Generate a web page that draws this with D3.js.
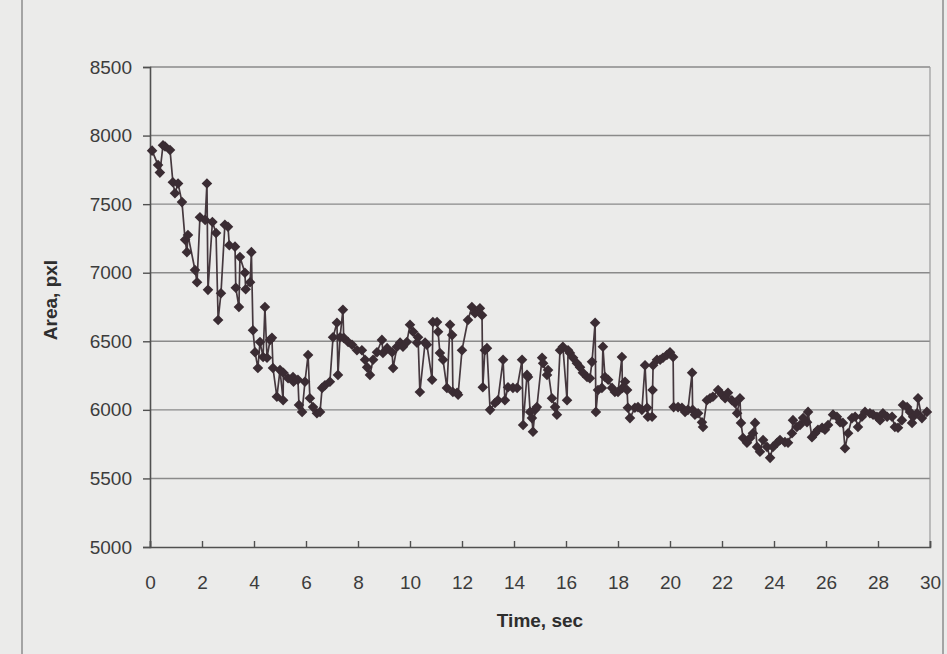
<!DOCTYPE html>
<html>
<head>
<meta charset="utf-8">
<script src="https://cdn.jsdelivr.net/npm/d3@7"></script>
<style>
  body { margin: 0; background: #ebebea; }
  svg { display: block; }
</style>
</head>
<body>
<svg id="chart" width="947" height="654"></svg>
<script>
// time (sec) and area (pxl)
const times = [
  0.08, 0.31, 0.38, 0.5, 0.58, 0.77, 0.88, 0.96, 1.08, 1.23, 1.35, 1.42, 1.46, 1.73, 1.81, 1.92,
  2.12, 2.19, 2.23, 2.4, 2.54, 2.62, 2.73, 2.88, 3.0, 3.05, 3.27, 3.3, 3.42, 3.46, 3.65, 3.68,
  3.85, 3.9, 3.96, 4.04, 4.15, 4.23, 4.35, 4.42, 4.5, 4.62, 4.69, 4.73, 4.88, 5.0, 5.12, 5.13,
  5.31, 5.5, 5.52, 5.69, 5.73, 5.85, 5.96, 6.08, 6.15, 6.27, 6.42, 6.54, 6.62, 6.73, 6.92, 7.04,
  7.19, 7.23, 7.31, 7.42, 7.45, 7.62, 7.77, 7.96, 8.15, 8.27, 8.35, 8.46, 8.58, 8.73, 8.92, 8.96,
  9.12, 9.31, 9.35, 9.5, 9.62, 9.73, 9.88, 10.0, 10.12, 10.27, 10.31, 10.38, 10.58, 10.65, 10.85, 10.88,
  11.04, 11.08, 11.15, 11.27, 11.42, 11.54, 11.62, 11.65, 11.81, 11.85, 12.0, 12.23, 12.38, 12.5, 12.69, 12.77,
  12.8, 12.88, 12.96, 13.08, 13.27, 13.38, 13.58, 13.65, 13.77, 13.96, 14.12, 14.31, 14.35, 14.5, 14.54, 14.62,
  14.69, 14.73, 14.81, 14.88, 15.08, 15.12, 15.27, 15.31, 15.46, 15.58, 15.65, 15.77, 15.88, 16.04, 16.08, 16.15,
  16.27, 16.42, 16.54, 16.65, 16.81, 16.92, 17.0, 17.12, 17.15, 17.23, 17.38, 17.42, 17.5, 17.62, 17.77, 17.88,
  18.0, 18.15, 18.17, 18.27, 18.35, 18.38, 18.46, 18.65, 18.77, 18.92, 19.04, 19.12, 19.15, 19.31, 19.33, 19.35,
  19.5, 19.62, 19.73, 19.88, 20.0, 20.12, 20.14, 20.31, 20.46, 20.58, 20.69, 20.85, 20.87, 20.96, 21.08, 21.23,
  21.27, 21.42, 21.54, 21.65, 21.85, 22.0, 22.12, 22.23, 22.38, 22.5, 22.58, 22.69, 22.73, 22.81, 22.96, 23.08,
  23.19, 23.27, 23.35, 23.46, 23.58, 23.73, 23.85, 23.96, 24.12, 24.23, 24.42, 24.54, 24.69, 24.73, 24.88, 25.0,
  25.12, 25.27, 25.31, 25.46, 25.58, 25.69, 25.85, 25.96, 26.08, 26.27, 26.42, 26.54, 26.65, 26.73, 26.85, 27.0,
  27.12, 27.23, 27.38, 27.5, 27.69, 27.81, 27.96, 28.08, 28.19, 28.35, 28.54, 28.65, 28.77, 28.92, 28.96, 29.12,
  29.23, 29.31, 29.35, 29.5, 29.54, 29.69, 29.88
]
const areas = [
  7890, 7785, 7730, 7930, 7920, 7895, 7660, 7580, 7650, 7515, 7240, 7150, 7275, 7020, 6930, 7405,
  7385, 7650, 6875, 7370, 7290, 6655, 6850, 7350, 7335, 7200, 7190, 6890, 6750, 7115, 7000, 6880,
  6930, 7150, 6580, 6420, 6305, 6495, 6385, 6750, 6380, 6510, 6525, 6305, 6095, 6290, 6070, 6270,
  6230, 6240, 6205, 6220, 6035, 5985, 6205, 6400, 6085, 6020, 5975, 5985, 6160, 6180, 6205, 6530,
  6635, 6255, 6530, 6730, 6525, 6495, 6475, 6435, 6435, 6365, 6310, 6255, 6365, 6420, 6510, 6415,
  6450, 6420, 6305, 6460, 6490, 6460, 6495, 6620, 6570, 6490, 6530, 6130, 6490, 6475, 6220, 6640,
  6640, 6570, 6415, 6365, 6160, 6620, 6545, 6130, 6125, 6110, 6435, 6655, 6750, 6705, 6740, 6690,
  6165, 6435, 6450, 6000, 6050, 6070, 6365, 6070, 6165, 6160, 6160, 6365, 5890, 6255, 6240, 5985,
  5940, 5840, 6000, 6020, 6380, 6340, 6255, 6290, 6085, 6020, 5965, 6435, 6460, 6070, 6435, 6415,
  6380, 6340, 6310, 6270, 6240, 6230, 6350, 6635, 5985, 6145, 6160, 6460, 6240, 6220, 6160, 6130,
  6130, 6385, 6160, 6205, 6145, 6015, 5940, 6015, 6020, 6000, 6325, 6015, 5950, 5950, 6145, 6325,
  6365, 6365, 6380, 6400, 6420, 6385, 6020, 6020, 6015, 5985, 6000, 6270, 6000, 5965, 5975, 5910,
  5875, 6070, 6085, 6095, 6145, 6110, 6085, 6125, 6070, 6050, 5975, 6085, 5905, 5795, 5760, 5795,
  5830, 5905, 5730, 5695, 5780, 5730, 5650, 5730, 5760, 5780, 5765, 5760, 5830, 5925, 5875, 5890,
  5940, 5910, 5985, 5800, 5830, 5855, 5870, 5855, 5890, 5965, 5950, 5910, 5905, 5720, 5830, 5940,
  5950, 5875, 5950, 5985, 5975, 5965, 5950, 5925, 5975, 5950, 5950, 5875, 5870, 5925, 6035, 6020,
  5985, 5905, 5950, 5975, 6085, 5940, 5985
]
const xTicks = d3.range(0, 31, 2)
const yTicks = d3.range(5000, 8501, 500)

const svg = d3.select('#chart')
const margin = {left: 150, right: 930, top: 67, bottom: 547}

const x = d3.scaleLinear().domain([0, 30]).range([margin.left, margin.right])
const y = d3.scaleLinear().domain([5000, 8500]).range([margin.bottom, margin.top])

//paper + chart area border
svg.append('rect').attr('width', 947).attr('height', 654).attr('fill', '#ebebea')
svg.append('line').attr('x1', 22).attr('x2', 22).attr('y1', 0).attr('y2', 654)
    .attr('stroke', '#8c8c8c').attr('stroke-width', 1.5)
svg.append('line').attr('x1', 943).attr('x2', 943).attr('y1', 0).attr('y2', 654)
    .attr('stroke', '#8c8c8c').attr('stroke-width', 1.5)

//gridlines and plot border
svg.append('g').selectAll('line')
    .data(yTicks.filter(d => d > 5000))
    .join('line')
    .attr('x1', margin.left).attr('x2', margin.right)
    .attr('y1', d => y(d)).attr('y2', d => y(d))
    .attr('stroke', '#8a8a8a').attr('stroke-width', 1.4)
svg.append('line').attr('x1', margin.right).attr('x2', margin.right)
    .attr('y1', margin.top).attr('y2', margin.bottom)
    .attr('stroke', '#9a9a9a').attr('stroke-width', 1.2)

//axes
const yAxis = svg.append('g')
    .attr('transform', `translate(${margin.left},0)`)
    .call(d3.axisLeft(y).tickValues(yTicks).tickSize(7).tickPadding(11).tickFormat(d3.format('d')))
const xAxis = svg.append('g')
    .attr('transform', `translate(0,${margin.bottom})`)
    .call(d3.axisBottom(x).tickValues(xTicks).tickSize(-6).tickPadding(29).tickFormat(d3.format('d')))

svg.selectAll('.domain').attr('stroke', '#505050').attr('stroke-width', 1.6)
svg.selectAll('.tick line').attr('stroke', '#505050').attr('stroke-width', 1.4)
svg.selectAll('.tick text')
    .attr('font-family', 'Liberation Sans, Arial, sans-serif')
    .attr('font-size', 19)
    .attr('fill', '#3c3c3c')
xAxis.selectAll('.tick text').attr('dy', 0).attr('y', 42)

//axis titles
svg.append('text')
    .attr('x', (margin.left + margin.right) / 2).attr('y', 627)
    .attr('text-anchor', 'middle')
    .attr('font-family', 'Liberation Sans, Arial, sans-serif')
    .attr('font-weight', 'bold').attr('font-size', 19).attr('fill', '#2e2e2e')
    .text('Time, sec')
svg.append('text')
    .attr('transform', 'translate(57,300) rotate(-90)')
    .attr('text-anchor', 'middle')
    .attr('font-family', 'Liberation Sans, Arial, sans-serif')
    .attr('font-weight', 'bold').attr('font-size', 19).attr('fill', '#2e2e2e')
    .text('Area, pxl')

//series
const data = times.map((t, i) => ({t: t, a: areas[i]}))
const line = d3.line().x(d => x(d.t)).y(d => y(d.a))
svg.append('path')
    .datum(data)
    .attr('d', line)
    .attr('fill', 'none')
    .attr('stroke', '#45383e')
    .attr('stroke-width', 1.7)

const diamond = d3.symbol(d3.symbolSquare, 56)
svg.append('g').selectAll('path')
    .data(data)
    .join('path')
    .attr('d', diamond)
    .attr('transform', d => `translate(${x(d.t)},${y(d.a)}) rotate(45)`)
    .attr('fill', '#3a2c33')
</script>
</body>
</html>
